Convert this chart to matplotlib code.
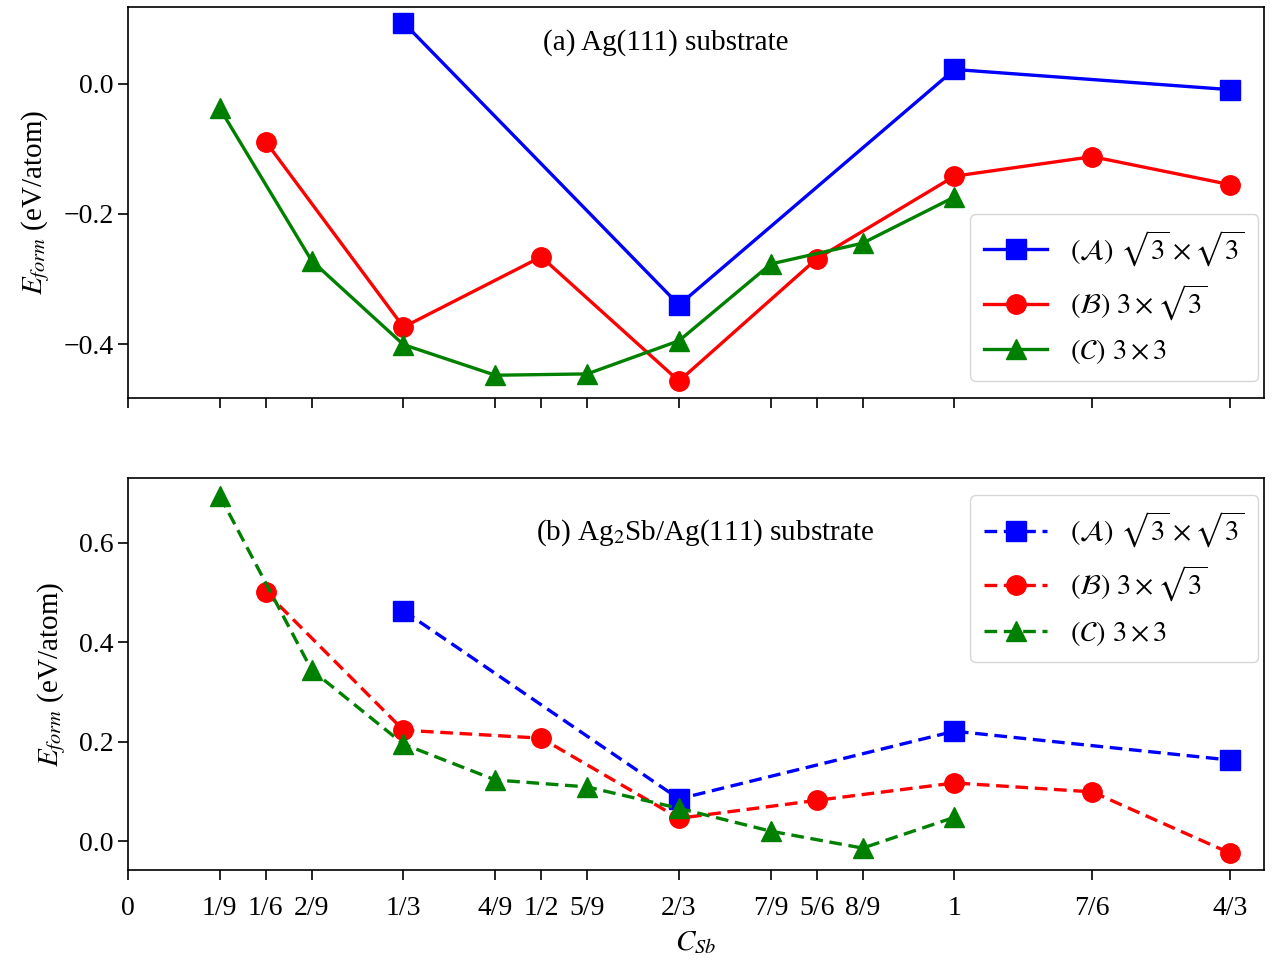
import matplotlib
matplotlib.use('Agg')
import matplotlib.pyplot as plt

plt.rcParams['font.family'] = ['Liberation Serif', 'DejaVu Serif']
plt.rcParams['mathtext.fontset'] = 'stix'

# x positions (C_Sb)
x_a = [1/3, 2/3, 1, 4/3]
x_b = [1/6, 1/3, 1/2, 2/3, 5/6, 1, 7/6, 4/3]
x_c = [1/9, 2/9, 1/3, 4/9, 5/9, 2/3, 7/9, 8/9, 1]

# (a) Ag(111) substrate
top_a = [0.094, -0.340, 0.022, -0.009]
top_b = [-0.089, -0.374, -0.266, -0.457, -0.269, -0.142, -0.112, -0.155]
top_c = [-0.038, -0.272, -0.401, -0.448, -0.446, -0.395, -0.277, -0.245, -0.174]

# (b) Ag2Sb/Ag(111) substrate
bot_a = [0.463, 0.085, 0.221, 0.163]
bot_b = [0.501, 0.223, 0.207, 0.046, 0.082, 0.117, 0.099, -0.024]
bot_c = [0.694, 0.344, 0.195, 0.123, 0.109, 0.066, 0.020, -0.014, 0.048]

tick_pos = [0, 1/9, 1/6, 2/9, 1/3, 4/9, 1/2, 5/9, 2/3, 7/9, 5/6, 8/9, 1, 7/6, 4/3]
tick_lab = ['0', '1/9', '1/6', '2/9', '1/3', '4/9', '1/2', '5/9', '2/3',
            '7/9', '5/6', '8/9', '1', '7/6', '4/3']

labels = [r'$(\mathcal{A})\ \sqrt{3}\times\sqrt{3}$',
          r'$(\mathcal{B})\ 3\times\sqrt{3}$',
          r'$(\mathcal{C})\ 3\times3$']

fig = plt.figure(figsize=(12.84, 9.64), dpi=100)
ax1 = fig.add_axes([128/1284, 1 - 398/964, 1136/1284, 391/964])
ax2 = fig.add_axes([128/1284, 1 - 870/964, 1136/1284, 392/964], sharex=ax1)

lw = 2.4
ms = 14
for ax, ya, yb, yc, dashed in [(ax1, top_a, top_b, top_c, False),
                               (ax2, bot_a, bot_b, bot_c, True)]:
    ls = '--' if dashed else '-'
    lines = [
        ax.plot(x_a, ya, ls, color='blue', marker='s', lw=lw, ms=ms, label=labels[0])[0],
        ax.plot(x_b, yb, ls, color='red', marker='o', lw=lw, ms=ms, label=labels[1])[0],
        ax.plot(x_c, yc, ls, color='green', marker='^', lw=lw, ms=ms, label=labels[2])[0],
    ]
    if dashed:
        for ln in lines:
            ln.set_dashes((3.8, 2))
    ax.set_ylabel(r'$E_{form}$ (eV/atom)', fontsize=21, labelpad=8)
    ax.tick_params(axis='both', labelsize=20, length=7, width=1.2)
    ax.tick_params(axis='x', pad=12)
    for s in ax.spines.values():
        s.set_linewidth(1.2)

ax1.set_xlim(0, 1.3745)
ax1.set_xticks(tick_pos)
ax1.set_xticklabels(tick_lab)
ax1.tick_params(axis='x', labelbottom=False)
ax1.set_ylim(-0.483, 0.118)
ax1.set_yticks([-0.4, -0.2, 0.0])
ax2.set_ylim(-0.058, 0.730)
ax2.set_yticks([0.0, 0.2, 0.4, 0.6])
ax2.set_xlabel(r'$C_{Sb}$', fontsize=21, labelpad=6)

ax1.text(0.473, 0.908, '(a) Ag(111) substrate', transform=ax1.transAxes,
         ha='center', va='center', fontsize=21)
ax2.text(0.508, 0.86, r'(b) Ag$_2$Sb/Ag(111) substrate', transform=ax2.transAxes,
         ha='center', va='center', fontsize=21)

ax1.legend(loc='lower right', fontsize=20.5, handlelength=2.2, labelspacing=0.5,
           borderpad=0.5, borderaxespad=0.2, bbox_to_anchor=(1, 0.03))
ax2.legend(loc='upper right', fontsize=20.5, handlelength=2.2, labelspacing=0.5,
           borderpad=0.5, borderaxespad=0.2, bbox_to_anchor=(1, 0.97))

fig.savefig('out.png', dpi=100)
